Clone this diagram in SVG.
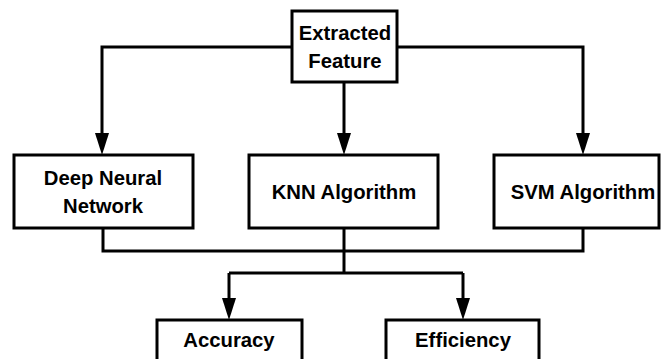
<svg xmlns="http://www.w3.org/2000/svg" width="662" height="359" viewBox="0 0 662 359">
<style>
.box{fill:#fff;stroke:#000;stroke-width:3}
.t{font-family:"Liberation Sans",Arial,sans-serif;font-weight:bold;font-size:20.3px;text-anchor:middle;fill:#000}
.c{fill:none;stroke:#000;stroke-width:3}
.ah{fill:#000}
</style>
<rect width="662" height="359" fill="#fff"/>
<g id="connectors">
<path class="c" d="M292,47 H102 V134"/>
<path class="c" d="M397,47 H583 V134"/>
<path class="c" d="M344,82 V134"/>
<path class="c" d="M103,228 V251 H583 V228"/>
<path class="c" d="M344,228 V273"/>
<path class="c" d="M229,273 H463"/>
<path class="c" d="M229,273 V300"/>
<path class="c" d="M463,273 V300"/>
<path class="ah" d="M95,133 L109,133 L102,155 Z"/>
<path class="ah" d="M576,133 L590,133 L583,155 Z"/>
<path class="ah" d="M337,133 L351,133 L344,155 Z"/>
<path class="ah" d="M222,298 L236,298 L229,320 Z"/>
<path class="ah" d="M456,298 L470,298 L463,320 Z"/>
</g>
<g id="extracted">
<rect class="box" x="292" y="11" width="105" height="71"/>
<text class="t" x="345" y="40">Extracted</text>
<text class="t" x="345" y="68">Feature</text>
</g>
<g id="dnn">
<rect class="box" x="14" y="155" width="179" height="73"/>
<text class="t" x="103" y="185">Deep Neural</text>
<text class="t" x="103" y="213">Network</text>
</g>
<g id="knn">
<rect class="box" x="249" y="155" width="189" height="73"/>
<text class="t" x="344" y="199">KNN Algorithm</text>
</g>
<g id="svm">
<rect class="box" x="494" y="155" width="165" height="73"/>
<text class="t" x="583" y="199">SVM Algorithm</text>
</g>
<g id="accuracy">
<rect class="box" x="157" y="320" width="145" height="45"/>
<text class="t" x="229" y="347">Accuracy</text>
</g>
<g id="efficiency">
<rect class="box" x="386" y="320" width="153" height="45"/>
<text class="t" x="463" y="347">Efficiency</text>
</g>
</svg>
